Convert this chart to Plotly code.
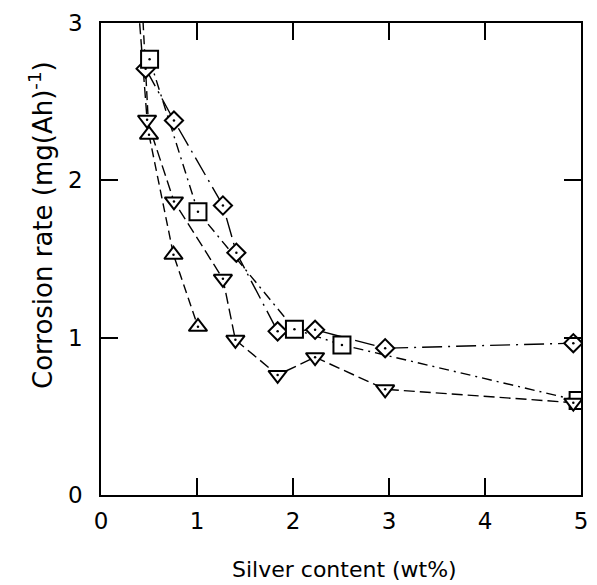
import plotly.graph_objects as go

# Data
diamond_x = [0.465, 0.76, 1.27, 1.41, 1.84, 2.23, 2.96, 4.92]
diamond_y = [2.71, 2.38, 1.84, 1.54, 1.04, 1.05, 0.933, 0.965]

square_x = [0.506, 1.01, 2.015, 2.51, 4.97]
square_y = [2.77, 1.80, 1.054, 0.954, 0.60]

down_x = [0.48, 0.76, 1.27, 1.40, 1.84, 2.23, 2.96, 4.92]
down_y = [2.385, 1.866, 1.374, 0.986, 0.763, 0.876, 0.672, 0.587]

up_x = [0.50, 0.755, 1.01]
up_y = [2.29, 1.527, 1.069]

# line continuations leaving the top of the frame
down_ext_x = [0.39, 0.48]
down_ext_y = [3.1, 2.385]
up_ext_x = [0.43, 0.50]
up_ext_y = [3.1, 2.29]

x_ticks = [0, 1, 2, 3, 4, 5]
y_ticks = [0, 1, 2, 3]

FONT = "DejaVu Sans"
fig = go.Figure()

lw = 1.4
fig.add_trace(go.Scatter(x=down_ext_x, y=down_ext_y, mode="lines",
                         line=dict(color="black", width=lw, dash="11px,5px"), hoverinfo="skip"))
fig.add_trace(go.Scatter(x=up_ext_x, y=up_ext_y, mode="lines",
                         line=dict(color="black", width=lw, dash="9px,5px"), hoverinfo="skip"))

series = [
    (diamond_x, diamond_y, "diamond", 14, "20px,6px,2px,6px"),
    (square_x, square_y, "square", 17, "10px,5px,2px,5px"),
    (down_x, down_y, "triangle-down", 16, "11px,5px"),
    (up_x, up_y, "triangle-up", 16, "9px,5px"),
]
for xs, ys, sym, sz, dash in series:
    fig.add_trace(go.Scatter(x=xs, y=ys, mode="lines",
                             line=dict(color="black", width=lw, dash=dash)))
for xs, ys, sym, sz, dash in series:
    fig.add_trace(go.Scatter(x=xs, y=ys, mode="markers",
                             marker=dict(symbol=sym, size=sz, color="white",
                                         line=dict(color="black", width=2))))
    fig.add_trace(go.Scatter(x=xs, y=ys, mode="markers",
                             marker=dict(symbol="circle", size=2.5, color="black")))

axis_common = dict(
    showgrid=False, zeroline=False, showline=True, linecolor="black", linewidth=1.6,
    mirror="allticks", ticks="inside", ticklen=17, tickwidth=1.6, tickcolor="black",
    tickfont=dict(family=FONT, size=23, color="black"),
)
fig.update_xaxes(range=[0, 5], tickvals=x_ticks, ticktext=[str(v) for v in x_ticks],
                 ticklabelstandoff=5, **axis_common)
fig.update_yaxes(range=[0, 3], tickvals=y_ticks, ticktext=[str(v) for v in y_ticks],
                 ticklabelstandoff=12, **axis_common)

fig.add_annotation(text="Silver content (wt%)", xref="paper", yref="paper",
                   x=0.507, y=-0.158, xanchor="center", yanchor="middle",
                   showarrow=False, font=dict(family=FONT, size=22, color="black"))
fig.add_annotation(text="Corrosion rate (mg(Ah)<sup>-1</sup>)", xref="paper", yref="paper",
                   x=-0.125, y=0.572, xanchor="center", yanchor="middle", textangle=-90,
                   showarrow=False, font=dict(family=FONT, size=26, color="black"))

fig.update_layout(
    width=597, height=585, showlegend=False,
    margin=dict(l=101, r=9, t=23, b=90),
    plot_bgcolor="white", paper_bgcolor="white",
)

fig.write_html("out.html")
